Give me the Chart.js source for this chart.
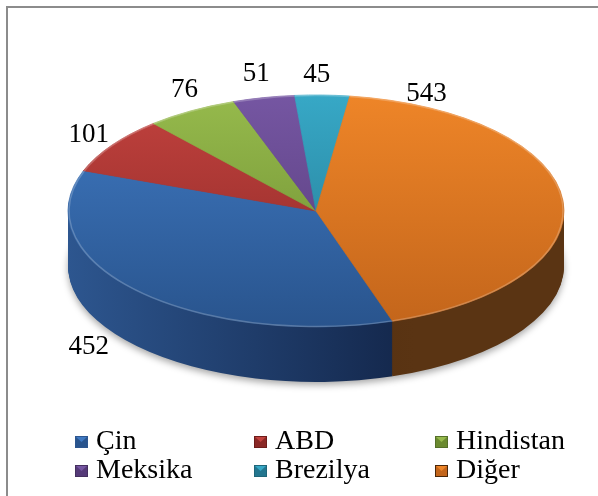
<!DOCTYPE html>
<html>
<head>
<meta charset="utf-8">
<script src="https://cdn.jsdelivr.net/npm/chart.js@4"></script>
<style>
  html, body { margin: 0; padding: 0; background: #fff; }
  #wrap { position: relative; width: 598px; height: 496px; overflow: hidden; }
  #frame { position: absolute; left: 6px; top: 6px; right: -4px; bottom: -4px;
           border-left: 2px solid #8c8c8c; border-top: 2px solid #8c8c8c; }
  canvas { position: absolute; left: 0; top: 0; }
</style>
</head>
<body>
<div id="wrap">
  <div id="frame"></div>
  <canvas id="myChart" width="598" height="496"></canvas>
</div>
<script>
  var countries = ["Çin", "ABD", "Hindistan", "Meksika", "Brezilya", "Diğer"];
  var amounts = [452, 101, 76, 51, 45, 543];

  // top face gradient (top -> front) and side gradient (left -> right)
  var faceColors = [["#3f79c2", "#29548d"], ["#c2423e", "#8a2826"], ["#96ba4c", "#6b8a30"],
                    ["#7556a2", "#553a78"], ["#37a8c6", "#23768f"], ["#ee8528", "#c3651b"]];
  var sideColors = [["#2d568f", "#13264a"], ["#6e1c1a", "#4a1211"], ["#55702a", "#3a4d1c"],
                    ["#45305f", "#2e2040"], ["#1f6679", "#164a58"], ["#4a270a", "#5a3413"]];

  // ellipse the pie is squashed into
  var CX = 316, CY = 211, RX = 248, RY = 116, DEPTH = 55;
  // label tweaks (along = where on the slice the label sits, nudge in px)
  var labelAlong = [0.5, 0.5, 0.5, 0.5, 0.5, 0.12];
  var labelNudge = [[-28, -12], [0, 0], [4, -5], [-3, -6], [-6, -2], [-12, 3]];

  function drawArcWith(arc, fill, ctx, bw) {
    var el = Object.create(arc);
    el.options = Object.assign({}, arc.options, {
      backgroundColor: fill, borderColor: fill, borderWidth: bw || 0, offset: 0, spacing: 0
    });
    arc.draw.call(el, ctx);
  }

  var pie3d = {
    id: "pie3d",
    beforeDatasetsDraw: function (chart) {
      var ctx = chart.ctx;
      var arcs = chart.getDatasetMeta(0).data;
      var R = arcs[0].outerRadius, ox = arcs[0].x, oy = arcs[0].y;
      function toEllipse(dy) {
        ctx.translate(CX, CY + dy);
        ctx.scale(RX / R, RY / R);
        ctx.translate(-ox, -oy);
      }
      // side wall, deepest layer first
      for (var d = DEPTH; d >= 1; d--) {
        arcs.forEach(function (arc, i) {
          ctx.save();
          toEllipse(d);
          if (d === DEPTH) {
            ctx.shadowColor = "rgba(0,0,0,0.35)";
            ctx.shadowBlur = 7;
            ctx.shadowOffsetY = 3;
          }
          var g = ctx.createLinearGradient(ox - R, 0, ox + R, 0);
          g.addColorStop(0, sideColors[i][0]);
          g.addColorStop(0.7, sideColors[i][1]);
          g.addColorStop(1, sideColors[i][1]);
          drawArcWith(arc, g, ctx);
          ctx.restore();
        });
      }
      // top face
      arcs.forEach(function (arc, i) {
        ctx.save();
        toEllipse(0);
        var g = ctx.createLinearGradient(0, oy - R, 0, oy + R);
        g.addColorStop(0, faceColors[i][0]);
        g.addColorStop(1, faceColors[i][1]);
        drawArcWith(arc, g, ctx, 1);
        ctx.restore();
        // soft rim highlight
        ctx.save();
        toEllipse(0);
        ctx.beginPath();
        ctx.arc(ox, oy, R - 1, arc.startAngle, arc.endAngle);
        ctx.restore();
        ctx.strokeStyle = "rgba(255,255,255,0.22)";
        ctx.lineWidth = 1.5;
        ctx.stroke();
      });
      return false;
    },
    afterDraw: function (chart) {
      var ctx = chart.ctx;
      var arcs = chart.getDatasetMeta(0).data;
      ctx.save();
      ctx.fillStyle = "#000";
      ctx.textAlign = "center";
      ctx.textBaseline = "middle";
      ctx.font = '27px "Liberation Serif"';
      arcs.forEach(function (arc, i) {
        var a = arc.startAngle + (arc.endAngle - arc.startAngle) * labelAlong[i];
        var c = Math.cos(a), s = Math.sin(a);
        var ax = CX + RX * c, ay = CY + RY * s + (s > 0 ? DEPTH : 0);
        var txt = String(chart.data.datasets[0].data[i]);
        var w = ctx.measureText(txt).width;
        var x = ax + c * (w / 2 + 8) + labelNudge[i][0];
        var y = ay + s * (10 + 8) + labelNudge[i][1];
        ctx.fillText(txt, x, y);
      });

      // legend, 3 columns x 2 rows
      var colX = [75, 254, 435], rowY = [449, 478];
      ctx.font = '28px "Liberation Serif"';
      ctx.textAlign = "left";
      ctx.textBaseline = "alphabetic";
      chart.data.labels.forEach(function (lab, i) {
        var x = colX[i % 3], y = rowY[Math.floor(i / 3)];
        var bx = x, by = y - 13, bw = 13, bh = 12;
        ctx.fillStyle = faceColors[i][1];
        ctx.fillRect(bx, by, bw, bh);
        ctx.fillStyle = faceColors[i][0];
        ctx.beginPath();
        ctx.moveTo(bx + 1, by + 1);
        ctx.lineTo(bx + bw - 1, by + 1);
        ctx.lineTo(bx + bw / 2, by + bh / 2);
        ctx.closePath();
        ctx.fill();
        ctx.strokeStyle = sideColors[i][0];
        ctx.lineWidth = 1;
        ctx.strokeRect(bx + 0.5, by + 0.5, bw - 1, bh - 1);
        ctx.fillStyle = "#000";
        ctx.fillText(lab, x + 21, y);
      });
      ctx.restore();
    }
  };

  new Chart("myChart", {
    type: "pie",
    data: {
      labels: countries,
      datasets: [{
        data: amounts,
        backgroundColor: faceColors.map(function (c) { return c[0]; }),
        borderWidth: 0
      }]
    },
    options: {
      responsive: false,
      animation: false,
      rotation: 162,
      plugins: {
        legend: { display: false },
        tooltip: { enabled: false }
      }
    },
    plugins: [pie3d]
  });
</script>
</body>
</html>
